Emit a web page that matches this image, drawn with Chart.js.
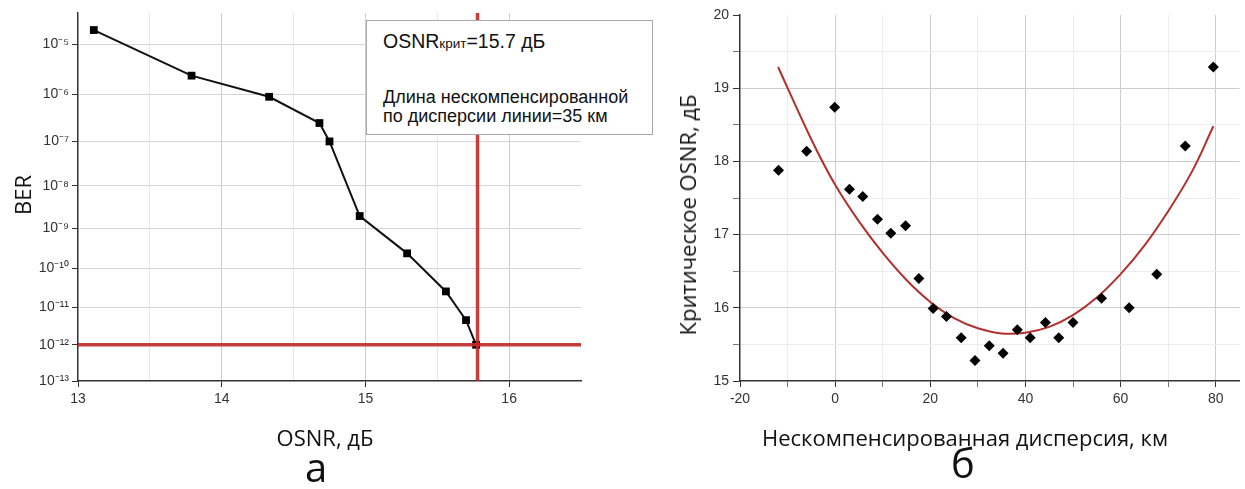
<!DOCTYPE html>
<html><head><meta charset="utf-8">
<script src="https://cdn.jsdelivr.net/npm/chart.js@4.4.1/dist/chart.umd.min.js"></script>
<style>
html,body{margin:0;padding:0;background:#fff;}
#wrap{position:relative;width:1245px;height:489px;overflow:hidden;background:#fff;}
canvas{position:absolute;top:0;}
.lbl{position:absolute;white-space:nowrap;line-height:1;font-family:'Open Sans','Noto Sans',sans-serif;color:#111;transform:translate(-50%,-50%);}
.rot{transform:translate(-50%,-50%) rotate(-90deg);}
#box{position:absolute;left:366px;top:20px;width:287px;height:115px;box-sizing:border-box;border:1px solid #a8a8a8;background:#fff;font-family:'Liberation Sans',Arial,sans-serif;color:#111;z-index:5;}
#box div{position:absolute;left:16px;white-space:nowrap;}
</style></head><body>
<div id="wrap">
<canvas id="c1" width="640" height="489" style="left:0;width:640px;height:489px"></canvas>
<canvas id="c2" width="605" height="489" style="left:640px;width:605px;height:489px"></canvas>
<div id="box">
  <div style="top:11px;font-size:19.5px;line-height:19px">OSNR<span style="font-size:13.5px">крит</span>=15.7 дБ</div>
  <div style="top:67px;font-size:18px;line-height:18.5px">Длина нескомпенсированной<br>по дисперсии линии=35 км</div>
</div>
<div class="lbl rot" style="left:22px;top:195px;font-size:22px">BER</div>
<div class="lbl" style="left:325px;top:437px;font-size:22px">OSNR, дБ</div>
<div class="lbl" style="left:316px;top:467px;font-size:40px">а</div>
<div class="lbl rot" style="left:687px;top:215px;font-size:22px">Критическое OSNR, дБ</div>
<div class="lbl" style="left:965px;top:437px;font-size:22px">Нескомпенсированная дисперсия, км</div>
<div class="lbl" style="left:963px;top:463px;font-size:40px">б</div>
</div>
<script>
// ---- data: left panel (BER vs OSNR) ----
const osnr = [13.11, 13.79, 14.33, 14.68, 14.75, 14.96, 15.29, 15.56, 15.70, 15.77];
const ber  = [1.84e-5, 2.4e-6, 8.9e-7, 2.5e-7, 1.0e-7, 1.95e-9, 2.4e-10, 2.6e-11, 4.6e-12, 1.0e-12];
const berTicks = [1e-5, 1e-6, 1e-7, 1e-8, 1e-9, 1e-10, 1e-11, 1e-12, 1e-13];
const berExp = [-5, -6, -7, -8, -9, -10, -11, -12, -13];
const osnrTicks = [13, 14, 15, 16];
const osnrCrit = 15.78;
const berLimit = 1e-12;
const berMin = 1e-13, berMax = 3.8e-5;
const osnrMin = 13, osnrMax = 16.5;

// ---- data: right panel (critical OSNR vs uncompensated dispersion) ----
const dispKm = [-11.9, -6.0, -0.1, 3.0, 5.8, 8.9, 11.7, 14.8, 17.6, 20.6, 23.4, 26.5, 29.4, 32.4, 35.3, 38.3, 41.0, 44.2, 47.0, 50.0, 56.0, 61.8, 67.6, 73.6, 79.5];
const critOsnr = [17.88, 18.14, 18.74, 17.62, 17.52, 17.21, 17.02, 17.12, 16.40, 15.99, 15.88, 15.59, 15.28, 15.48, 15.38, 15.70, 15.59, 15.80, 15.59, 15.80, 16.13, 16.00, 16.46, 18.21, 19.29];
const fitKm   = [-12, -5, 0, 5, 10, 15, 20, 25, 30, 35, 40, 45, 50, 55, 60, 65, 70, 75, 79.5];
const fitOsnr = [19.29, 18.30, 17.68, 17.18, 16.75, 16.38, 16.08, 15.86, 15.72, 15.65, 15.66, 15.74, 15.90, 16.14, 16.46, 16.85, 17.32, 17.86, 18.48];
const dispTicks = [-20, 0, 20, 40, 60, 80];
const osnrAxisTicks = [15, 16, 17, 18, 19, 20];

const SUP = {'-':'\u207B','0':'\u2070','1':'\u00B9','2':'\u00B2','3':'\u00B3','4':'\u2074','5':'\u2075','6':'\u2076','7':'\u2077','8':'\u2078','9':'\u2079'};
const supStr = n => String(n).split('').map(c => SUP[c]).join('');

// custom BER axis (scale of the original: position ~ (-log10 BER)^0.6)
const tf = v => -Math.pow(-Math.log10(v), 0.6);
class BerScale extends Chart.Scale {
  determineDataLimits() { this.min = this.options.min; this.max = this.options.max; }
  buildTicks() { return berTicks.map(v => ({value: v})); }
  configure() { super.configure(); this._a = tf(this.min); this._b = tf(this.max); }
  getLabelForValue(v) { return String(v); }
  getPixelForValue(v) {
    if (v === null || v === undefined || isNaN(v) || v <= 0) return NaN;
    return this.getPixelForDecimal((tf(v) - this._a) / (this._b - this._a));
  }
  getValueForPixel(p) {
    const t = this._a + this.getDecimalForPixel(p) * (this._b - this._a);
    return Math.pow(10, -Math.pow(-t, 1 / 0.6));
  }
}
BerScale.id = 'ber';
BerScale.defaults = {};
Chart.register(BerScale);

const tickFont = {family: "'Liberation Sans', Arial, sans-serif", size: 14};
const axisCol = '#333';

new Chart(document.getElementById('c1'), {
  type: 'scatter',
  data: {
    datasets: [
      {data: [{x: osnrMin, y: berLimit}, {x: osnrMax, y: berLimit}], showLine: true, borderColor: 'rgba(196,40,40,0.9)', borderWidth: 3.5, pointRadius: 0, order: 0},
      {data: [{x: osnrCrit, y: berMin}, {x: osnrCrit, y: berMax}], showLine: true, borderColor: 'rgba(196,40,40,0.9)', borderWidth: 3.5, pointRadius: 0, order: 0},
      {data: osnr.map((x, i) => ({x, y: ber[i]})), showLine: true, borderColor: '#111', borderWidth: 2, pointStyle: 'rect', pointRadius: 5.5, pointBackgroundColor: '#000', pointBorderColor: '#000', pointBorderWidth: 0, order: 1}
    ]
  },
  options: {
    responsive: false, animation: false, devicePixelRatio: 1, events: [],
    layout: {padding: {left: 0, right: 59, top: 13, bottom: 0}},
    plugins: {legend: {display: false}, tooltip: {enabled: false}},
    scales: {
      x: {
        type: 'linear', min: osnrMin, max: osnrMax,
        afterBuildTicks: s => { const t = []; for (let v = osnrMin; v <= osnrMax + 1e-9; v += 0.5) t.push({value: +v.toFixed(1)}); s.ticks = t; },
        afterFit: s => { s.height = 108; },
        ticks: {autoSkip: false, maxRotation: 0, padding: 4, color: axisCol, font: tickFont,
          callback: v => osnrTicks.includes(v) ? String(v) : ''},
        grid: {
          color: c => (c.tick && (c.tick.value === osnrMin || c.tick.value === osnrMax)) ? 'rgba(0,0,0,0)' : (c.tick && osnrTicks.includes(c.tick.value) ? '#cdcdcd' : '#e6e6e6'),
          tickColor: c => (c.tick && osnrTicks.includes(c.tick.value)) ? axisCol : 'rgba(0,0,0,0)',
          tickLength: 6, lineWidth: 1
        },
        border: {color: axisCol, width: 1.5}
      },
      y: {
        type: 'ber', min: berMin, max: berMax,
        afterFit: s => { s.width = 78; },
        ticks: {autoSkip: false, padding: 3, color: axisCol, font: tickFont,
          callback: v => { const i = berTicks.indexOf(v); return i >= 0 ? '10' + supStr(berExp[i]) : ''; }},
        grid: {color: c => (c.tick && c.tick.value === berMin) ? 'rgba(0,0,0,0)' : '#d6d6d6', tickColor: axisCol, tickLength: 6, lineWidth: 1},
        border: {color: axisCol, width: 1.5}
      }
    }
  }
});

new Chart(document.getElementById('c2'), {
  type: 'scatter',
  data: {
    datasets: [
      {data: fitKm.map((x, i) => ({x, y: fitOsnr[i]})), showLine: true, tension: 0.4, borderColor: '#b3302f', borderWidth: 2, pointRadius: 0, order: 1},
      {data: dispKm.map((x, i) => ({x, y: critOsnr[i]})), showLine: false, pointStyle: 'rectRot', pointRadius: 5.5, pointBackgroundColor: '#000', pointBorderColor: '#000', pointBorderWidth: 0, order: 0}
    ]
  },
  options: {
    responsive: false, animation: false, devicePixelRatio: 1, events: [],
    layout: {padding: {left: 0, right: 2, top: 15, bottom: 0}},
    plugins: {legend: {display: false}, tooltip: {enabled: false}},
    scales: {
      x: {
        type: 'linear', min: -20, max: 85,
        afterBuildTicks: s => { const t = []; for (let v = -20; v <= 80; v += 10) t.push({value: v}); s.ticks = t; },
        afterFit: s => { s.height = 108; },
        ticks: {autoSkip: false, maxRotation: 0, padding: 4, color: axisCol, font: tickFont,
          callback: v => dispTicks.includes(v) ? String(v) : ''},
        grid: {
          color: c => (c.tick && c.tick.value === -20) ? 'rgba(0,0,0,0)' : (c.tick && dispTicks.includes(c.tick.value) ? '#cdcdcd' : '#ececec'),
          tickColor: c => (c.tick && dispTicks.includes(c.tick.value)) ? axisCol : '#777',
          tickLength: 6, lineWidth: 1
        },
        border: {color: axisCol, width: 1.5}
      },
      y: {
        type: 'linear', min: 15, max: 20,
        afterBuildTicks: s => { const t = []; for (let v = 15; v <= 20; v += 0.5) t.push({value: v}); s.ticks = t; },
        afterFit: s => { s.width = 100; },
        ticks: {autoSkip: false, padding: 4, color: axisCol, font: tickFont,
          callback: v => osnrAxisTicks.includes(v) ? String(v) : ''},
        grid: {
          color: c => (c.tick && (c.tick.value === 15 || c.tick.value === 20)) ? 'rgba(0,0,0,0)' : (c.tick && osnrAxisTicks.includes(c.tick.value) ? '#cdcdcd' : '#ececec'),
          tickColor: c => (c.tick && osnrAxisTicks.includes(c.tick.value)) ? axisCol : '#777',
          tickLength: 7, lineWidth: 1
        },
        border: {color: axisCol, width: 1.5}
      }
    }
  }
});
</script>
</body></html>
